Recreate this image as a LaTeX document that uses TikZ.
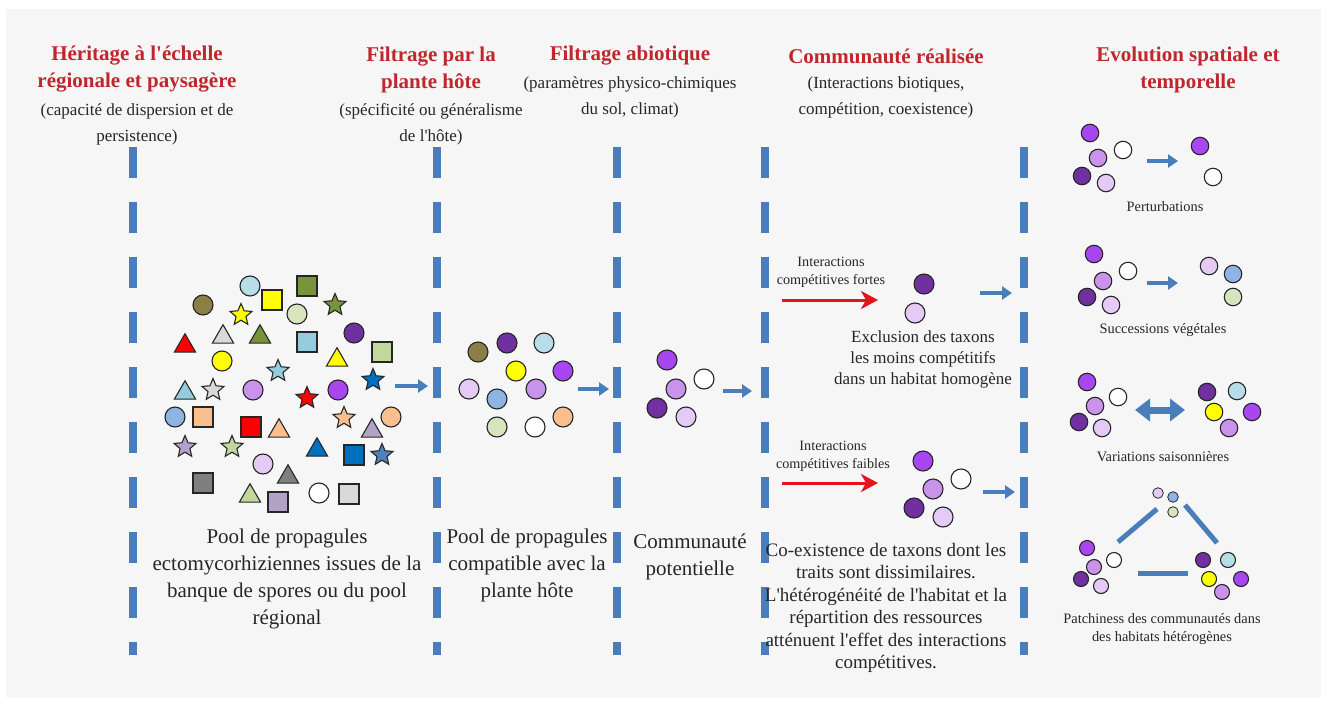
\documentclass[tikz,border=0pt]{standalone}
\usepackage{fontspec}
\setmainfont{Liberation Serif}
\usetikzlibrary{shapes.geometric,arrows.meta}
\newcommand\aq{\textquotesingle}
\definecolor{bgpanel}{HTML}{F6F6F6}
\definecolor{sepblue}{HTML}{4A7EBB}
\definecolor{hdred}{HTML}{C0272D}
\definecolor{txt}{HTML}{262626}
\definecolor{cdpur}{HTML}{7030A0}
\definecolor{cpur}{HTML}{A846F2}
\definecolor{clav}{HTML}{C993EC}
\definecolor{cplav}{HTML}{E6CAF6}
\definecolor{clblue}{HTML}{B7DDE8}
\definecolor{ccorn}{HTML}{8DB4E2}
\definecolor{cpeach}{HTML}{F9BF8F}
\definecolor{cpgreen}{HTML}{D7E4BD}
\definecolor{colbr}{HTML}{8B7E46}
\definecolor{cyel}{HTML}{FFFF00}
\definecolor{colive}{HTML}{77933C}
\definecolor{cred}{HTML}{FF0000}
\definecolor{clgray}{HTML}{D9D9D9}
\definecolor{cgray}{HTML}{7F7F7F}
\definecolor{clavg}{HTML}{B3A2C7}
\definecolor{clbsq}{HTML}{93CDDD}
\definecolor{cpgsq}{HTML}{C3D69B}
\definecolor{cblue}{HTML}{0070C0}
\definecolor{csteel}{HTML}{4F81BD}
\definecolor{cwhite}{HTML}{FFFFFF}
\definecolor{arred}{HTML}{E3141B}
\begin{document}
\begin{tikzpicture}[x=1pt,y=-1pt,
  sepline/.style={draw=sepblue, line width=8pt, dash pattern=on 31pt off 24pt},
  circ/.style={circle, draw=txt, line width=1.1pt, minimum size=20pt, inner sep=0pt},
  rcirc/.style={circ, minimum size=17.5pt},
  pcirc/.style={circ, minimum size=15pt},
  tcirc/.style={circ, minimum size=10.6pt, line width=0.8pt},
  sqr/.style={rectangle, draw=txt, line width=1.1pt, minimum size=20pt, inner sep=0pt},
  tri/.style={regular polygon, regular polygon sides=3, draw=txt, line width=1.1pt, minimum size=24.5pt, inner sep=0pt, yshift=-3pt},
  stf/.style={star, star points=5, star point ratio=2.2, draw=txt, line width=1.1pt, minimum size=23pt, inner sep=0pt},
  barrow/.style={draw=sepblue, line width=4pt, -{Triangle[length=10pt,width=13pt]}},
  dbarrow/.style={draw=sepblue, line width=7pt, {Triangle[length=15pt,width=22pt]}-{Triangle[length=15pt,width=22pt]}},
  rarrow/.style={draw=arred, line width=3pt, -{Stealth[length=17pt,width=18pt,inset=5pt]}},
  pline/.style={draw=sepblue, line width=5pt},
  title/.style={text=hdred, font=\bfseries\fontsize{21}{27}\selectfont, align=center, inner sep=0pt},
  sub/.style={text=txt, font=\fontsize{17}{26}\selectfont, align=center, inner sep=0pt},
  maintext/.style={text=txt, font=\fontsize{21}{27}\selectfont, align=center, inner sep=0pt},
  midtext/.style={text=txt, font=\fontsize{17}{21}\selectfont, align=center, inner sep=0pt},
  lowtext/.style={text=txt, font=\fontsize{19}{22.5}\selectfont, align=center, inner sep=0pt},
  smalltext/.style={text=txt, font=\fontsize{14.2}{18}\selectfont, align=center, inner sep=0pt},
  captext/.style={text=txt, font=\fontsize{14.4}{18}\selectfont, align=center, inner sep=0pt}
]
\useasboundingbox (0,0) rectangle (1327,704);
\fill[white] (0,0) rectangle (1327,704);
\fill[bgpanel] (6,9) rectangle (1321,698);

% separators
\foreach \x [count=\i] in {133,437,617,765,1024}{
  \coordinate (dtop\i) at (\x,147);
  \coordinate (dbot\i) at (\x,655);
  \draw[sepline] (dtop\i) -- (dbot\i);
}

% headers
\node[title] (h1) at (137,69.5) {Héritage à l\aq échelle\\régionale et paysagère};
\node[sub] (s1) at (137,124) {(capacité de dispersion et de\\persistence)};
\node[title] (h2) at (431,69.5) {Filtrage par la\\plante hôte};
\node[sub] (s2) at (431,124) {(spécificité ou généralisme\\de l\aq hôte)};
\node[title] (h3) at (630,56) {Filtrage abiotique};
\node[sub] (s3) at (630,97) {(paramètres physico-chimiques\\du sol, climat)};
\node[title] (h4) at (886,56) {Communauté réalisée};
\node[sub] (s4) at (886,97) {(Interactions biotiques,\\compétition, coexistence)};
\node[title] (h5) at (1188,69.5) {Evolution spatiale et\\temporelle};

% regional pool
\foreach \x/\y/\c [count=\i] in {250/286/clblue,203/305/colbr,297/314/cpgreen,354/333/cdpur,222/361/cyel,253/390/clav,338/390/cpur,175/417/ccorn,391/417/cpeach,263/464/cplav,319/493/cwhite}
  \node[circ, fill=\c] (pc\i) at (\x,\y) {};
\foreach \x/\y/\c [count=\i] in {272/300/cyel,307/286/colive,307/342/clbsq,382/352/cpgsq,203/417/cpeach,251/427/cred,354/455/cblue,203/483/cgray,278/502/clavg,349/494/clgray}
  \node[sqr, fill=\c] (ps\i) at (\x,\y) {};
\foreach \x/\y/\c [count=\i] in {185/343/cred,223/334/clgray,260/334/colive,337/357/cyel,185/390/clbsq,279/428/cpeach,372/428/clavg,317/447/cblue,288/474/cgray,250/493/cpgsq}
  \node[tri, fill=\c] (pt\i) at (\x,\y) {};
\foreach \x/\y/\c [count=\i] in {241/315/cyel,335/305/colive,278/371/clbsq,213/390/clgray,307/398/cred,373/380/cblue,344/418/cpeach,185/447/clavg,232/447/cpgsq,382/455/csteel}
  \node[stf, fill=\c] (pst\i) at (\x,\y) {};

% compatible pool
\foreach \x/\y/\c [count=\i] in {478/352/colbr,507/343/cdpur,544/343/clblue,516/371/cyel,563/371/cpur,469/389/cplav,536/389/clav,497/399/ccorn,563/417/cpeach,497/427/cpgreen,535/427/cwhite}
  \node[circ, fill=\c] (mc\i) at (\x,\y) {};

% potential community
\foreach \x/\y/\c [count=\i] in {667/360/cpur,704/379/cwhite,676/389/clav,657/408/cdpur,686/417/cplav}
  \node[circ, fill=\c] (kc\i) at (\x,\y) {};

% realised community
\foreach \x/\y/\c [count=\i] in {924/284/cdpur,915/313/cplav}
  \node[circ, fill=\c] (ra\i) at (\x,\y) {};
\foreach \x/\y/\c [count=\i] in {923/461/cpur,961/479/cwhite,933/489/clav,914/508/cdpur,943/517/cplav}
  \node[circ, fill=\c] (rb\i) at (\x,\y) {};

% right column
\foreach \x/\y/\c [count=\i] in {1090/133/cpur,1123/150/cwhite,1098/158/clav,1082/176/cdpur,1106/183/cplav,1200/146/cpur,1213/177/cwhite}
  \node[rcirc, fill=\c] (ea\i) at (\x,\y) {};
\foreach \x/\y/\c [count=\i] in {1094/254/cpur,1128/271/cwhite,1103/281/clav,1087/297/cdpur,1111/305/cplav,1209/266/cplav,1233/274/ccorn,1233/297/cpgreen}
  \node[rcirc, fill=\c] (eb\i) at (\x,\y) {};
\foreach \x/\y/\c [count=\i] in {1087/382/cpur,1118/397/cwhite,1095/406/clav,1079/422/cdpur,1102/428/cplav,1207/392/cdpur,1237/391/clblue,1214/412/cyel,1252/412/cpur,1229/428/clav}
  \node[rcirc, fill=\c] (ec\i) at (\x,\y) {};
\foreach \x/\y/\c [count=\i] in {1158/493/cplav,1173/497/ccorn,1173/512/cpgreen}
  \node[tcirc, fill=\c] (et\i) at (\x,\y) {};
\foreach \x/\y/\c [count=\i] in {1087/548/cpur,1114/560/cwhite,1094/567/clav,1081/579/cdpur,1101/586/cplav,1203/560/cdpur,1228/560/clblue,1209/579/cyel,1241/579/cpur,1222/592/clav}
  \node[pcirc, fill=\c] (ed\i) at (\x,\y) {};

% blue arrows
\coordinate (b1s) at (395,386); \coordinate (b1e) at (428,386);
\coordinate (b2s) at (578,389); \coordinate (b2e) at (609,389);
\coordinate (b3s) at (723,391); \coordinate (b3e) at (752,391);
\coordinate (b4s) at (980,293); \coordinate (b4e) at (1012,293);
\coordinate (b5s) at (983,492); \coordinate (b5e) at (1015,492);
\coordinate (b6s) at (1147,161); \coordinate (b6e) at (1178,161);
\coordinate (b7s) at (1147,283); \coordinate (b7e) at (1178,283);
\foreach \i in {1,...,7} \draw[barrow] (b\i s) -- (b\i e);
\coordinate (dbs) at (1135,410); \coordinate (dbe) at (1185,410);
\draw[dbarrow] (dbs) -- (dbe);

% red arrows
\coordinate (r1s) at (782,300); \coordinate (r1e) at (878,300);
\coordinate (r2s) at (782,483); \coordinate (r2e) at (878,483);
\draw[rarrow] (r1s) -- (r1e);
\draw[rarrow] (r2s) -- (r2e);

% patchiness lines
\coordinate (pl1a) at (1118,542); \coordinate (pl1b) at (1157,509);
\coordinate (pl2a) at (1185,505); \coordinate (pl2b) at (1217,543);
\coordinate (pl3a) at (1138,573); \coordinate (pl3b) at (1188,573);
\draw[pline] (pl1a) -- (pl1b);
\draw[pline] (pl2a) -- (pl2b);
\draw[pline] (pl3a) -- (pl3b);

% texts
\node[maintext] (t1) at (287,579) {Pool de propagules\\ectomycorhiziennes issues de la\\banque de spores ou du pool\\régional};
\node[maintext] (t2) at (527,565.5) {Pool de propagules\\compatible avec la\\plante hôte};
\node[maintext] (t3) at (690,556.5) {Communauté\\potentielle};
\node[smalltext] (i1) at (831,272) {Interactions\\compétitives fortes};
\node[smalltext] (i2) at (833,456) {Interactions\\compétitives faibles};
\node[midtext] (t4) at (923,359) {Exclusion des taxons\\les moins compétitifs\\dans un habitat homogène};
\node[lowtext] (t5) at (886,608) {Co-existence de taxons dont les\\traits sont dissimilaires.\\L\aq hétérogénéité de l\aq habitat et la\\répartition des ressources\\atténuent l\aq effet des interactions\\compétitives.};
\node[captext] (c1) at (1165,207) {Perturbations};
\node[captext] (c2) at (1163,330) {Successions végétales};
\node[captext] (c3) at (1163,457) {Variations saisonnières};
\node[captext] (c4) at (1162,629) {Patchiness des communautés dans\\des habitats hétérogènes};
\end{tikzpicture}
\end{document}
